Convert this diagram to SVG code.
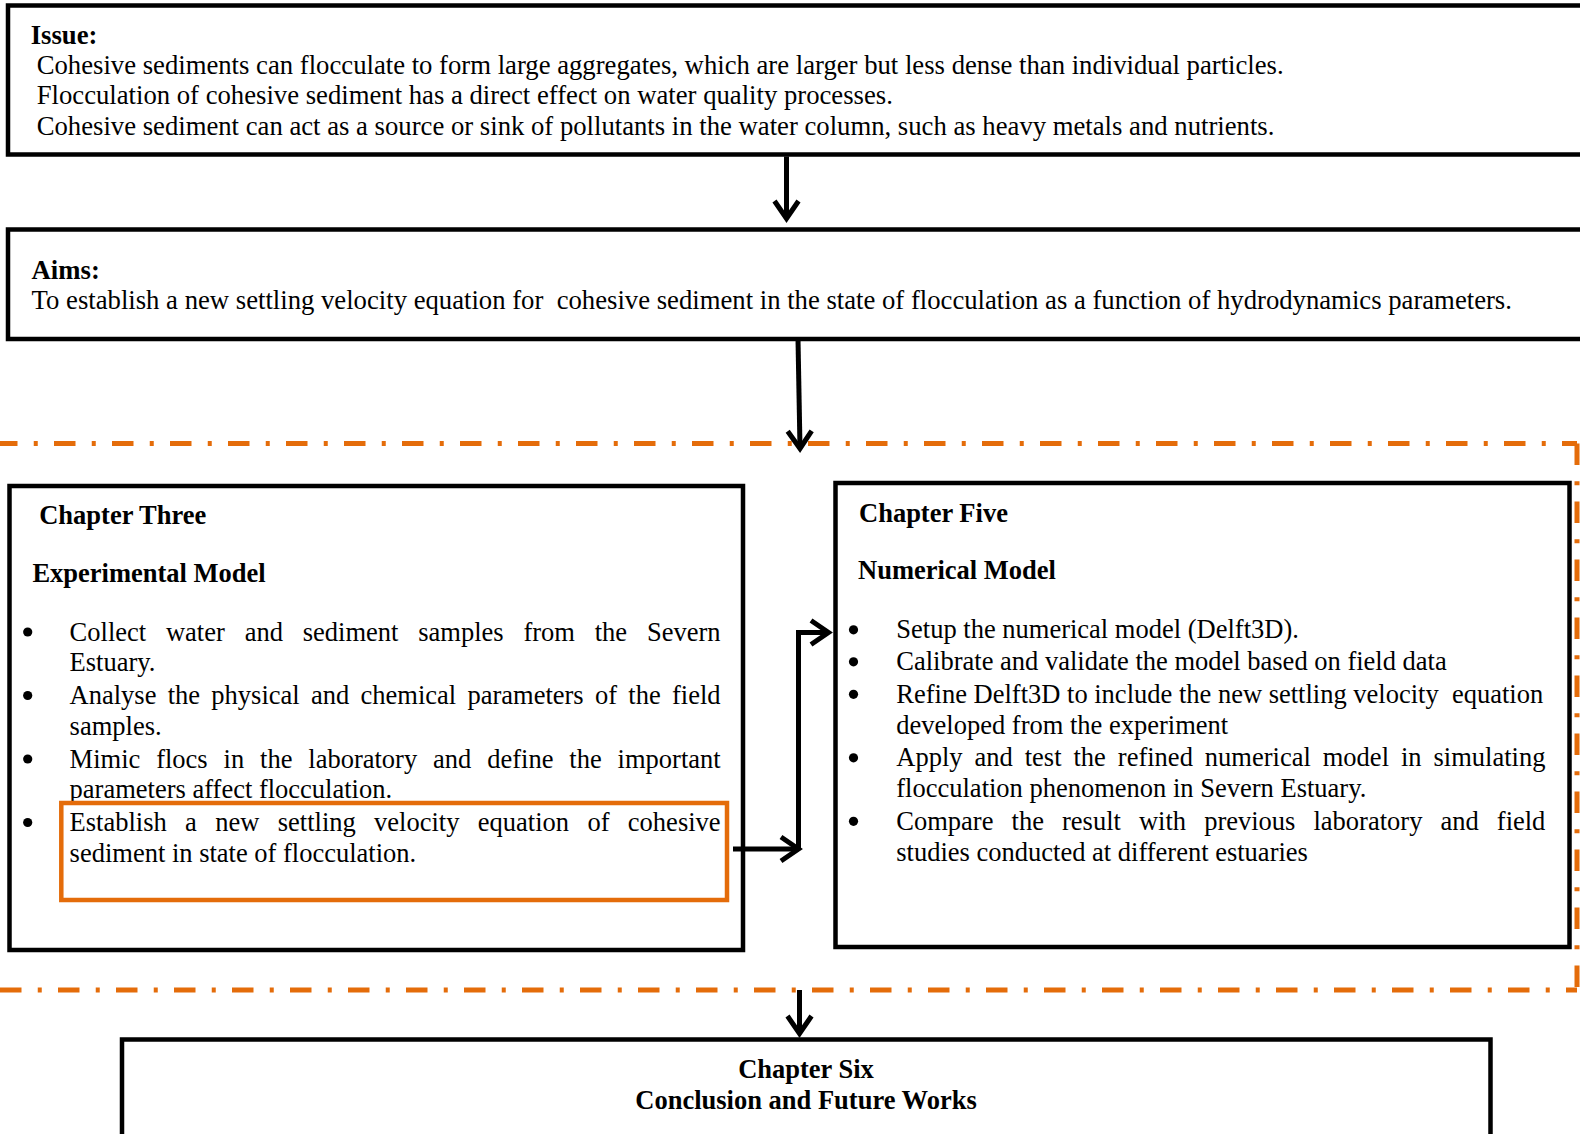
<svg xmlns="http://www.w3.org/2000/svg" width="1580" height="1134" viewBox="0 0 1580 1134">
<style>
.t{font-family:"Liberation Serif","Times New Roman",serif;font-size:26.5px;fill:#000}
.w{font-size:26.7px}
.b{font-weight:bold}
.bul{fill:#000}
.box{fill:#fff;stroke:#000;stroke-width:4.5}
.orange{fill:none;stroke:#E46C0A;stroke-width:4.5}
.dash{fill:none;stroke:#E46C0A;stroke-width:5;stroke-dasharray:21.5 16.25 4 16.25}
.conn{fill:none;stroke:#000;stroke-width:5;marker-end:url(#chev)}
.pre{white-space:pre}
</style>
<defs>
<marker id="chev" markerUnits="userSpaceOnUse" viewBox="-25 -16 32 32" markerWidth="32" markerHeight="32" refX="0" refY="0" orient="auto" overflow="visible">
<path d="M-17.5,-12 L0,0 L-17.5,12" fill="none" stroke="#000" stroke-width="5" stroke-linejoin="miter"/>
</marker>
</defs>
<rect x="0" y="0" width="1580" height="1134" fill="#fff"/>

<g id="region">
<path class="dash" d="M0,443.5 H1577" stroke-dashoffset="4"/>
<path class="dash" d="M0,990 H1577"/>
<path class="dash" d="M1577,443.5 V990" stroke-width="4"/>
</g>

<g id="issue">
<rect class="box" x="8" y="5.5" width="1600" height="149"/>
<text class="t w b" x="30.7" y="44">Issue:</text>
<text class="t w" x="36.7" y="73.5">Cohesive sediments can flocculate to form large aggregates, which are larger but less dense than individual particles.</text>
<text class="t w" x="36.7" y="104">Flocculation of cohesive sediment has a direct effect on water quality processes.</text>
<text class="t w" x="36.7" y="134.5">Cohesive sediment can act as a source or sink of pollutants in the water column, such as heavy metals and nutrients.</text>
</g>

<g id="aims">
<rect class="box" x="8" y="229.5" width="1600" height="109.5"/>
<text class="t w b" x="31.6" y="279">Aims:</text>
<text class="t w pre" x="31.6" y="309">To establish a new settling velocity equation for  cohesive sediment in the state of flocculation as a function of hydrodynamics parameters.</text>
</g>

<g id="chapter-three">
<rect class="box" x="9.5" y="486" width="733.5" height="464"/>
<text class="t b" x="39.2" y="524.3">Chapter Three</text>
<text class="t b" x="32.4" y="582">Experimental Model</text>
<circle class="bul" cx="27.7" cy="632" r="4.6"/>
<circle class="bul" cx="27.7" cy="695.5" r="4.6"/>
<circle class="bul" cx="27.7" cy="759" r="4.6"/>
<circle class="bul" cx="27.7" cy="822.5" r="4.6"/>
<text class="t" x="69.6" y="640.5" style="word-spacing:13.2px">Collect water and sediment samples from the Severn</text>
<text class="t" x="69.6" y="671">Estuary.</text>
<text class="t" x="69.6" y="704" style="word-spacing:4.66px">Analyse the physical and chemical parameters of the field</text>
<text class="t" x="69.6" y="735">samples.</text>
<text class="t" x="69.6" y="767.5" style="word-spacing:9.26px">Mimic flocs in the laboratory and define the important</text>
<text class="t" x="69.6" y="797.5">parameters affect flocculation.</text>
<rect class="orange" x="61.3" y="803" width="665.7" height="97"/>
<text class="t" x="69.6" y="830.5" style="word-spacing:11.73px">Establish a new settling velocity equation of cohesive</text>
<text class="t" x="69.6" y="861.5">sediment in state of flocculation.</text>
</g>

<g id="chapter-five">
<rect class="box" x="835.5" y="483" width="734" height="464"/>
<text class="t b" x="859" y="521.5">Chapter Five</text>
<text class="t b" x="858" y="578.5">Numerical Model</text>
<circle class="bul" cx="853.5" cy="629.8" r="4.6"/>
<circle class="bul" cx="853.5" cy="661.8" r="4.6"/>
<circle class="bul" cx="853.5" cy="694.3" r="4.6"/>
<circle class="bul" cx="853.5" cy="757.8" r="4.6"/>
<circle class="bul" cx="853.5" cy="821.3" r="4.6"/>
<text class="t" x="896.3" y="638">Setup the numerical model (Delft3D).</text>
<text class="t" x="896.3" y="670">Calibrate and validate the model based on field data</text>
<text class="t pre" x="896.3" y="702.5">Refine Delft3D to include the new settling velocity  equation</text>
<text class="t" x="896.3" y="733.5">developed from the experiment</text>
<text class="t" x="896.3" y="766" style="word-spacing:5.34px">Apply and test the refined numerical model in simulating</text>
<text class="t" x="896.3" y="797">flocculation phenomenon in Severn Estuary.</text>
<text class="t" x="896.3" y="829.5" style="word-spacing:11.46px">Compare the result with previous laboratory and field</text>
<text class="t" x="896.3" y="861">studies conducted at different estuaries</text>
</g>

<g id="chapter-six">
<rect class="box" x="122" y="1039.5" width="1368.5" height="120"/>
<text class="t b" x="806" y="1077.5" text-anchor="middle">Chapter Six</text>
<text class="t b" x="806" y="1109" text-anchor="middle">Conclusion and Future Works</text>
</g>

<g id="connectors">
<path class="conn" d="M786.5,156.5 V218.5"/>
<path class="conn" d="M798,339 L800,448.5"/>
<path class="conn" d="M799.5,990 V1033.5"/>
<path class="conn" d="M733,849 H798.5" stroke-width="6"/>
<path class="conn" d="M798.5,849 V632.5 H828.5" stroke-width="4"/>
</g>
</svg>
